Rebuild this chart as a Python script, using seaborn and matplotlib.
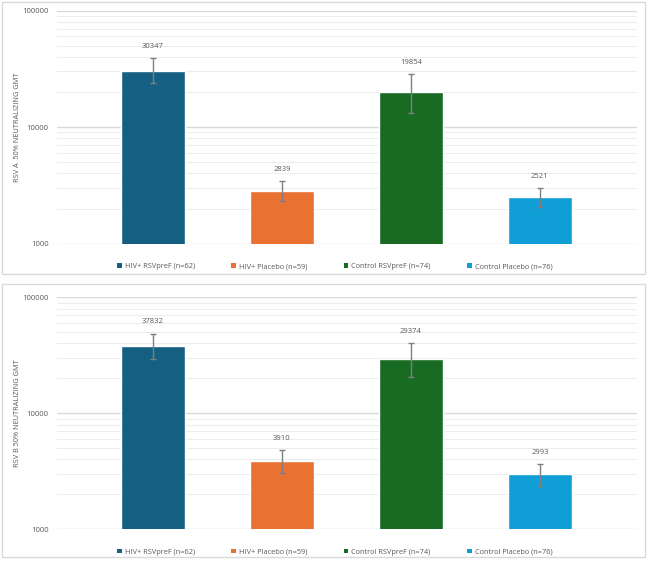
import seaborn as sns
import matplotlib.pyplot as plt
import pandas as pd
from matplotlib.patches import Patch, Rectangle
from matplotlib.ticker import LogLocator, FixedLocator

groups = ["HIV+ RSVpreF (n=62)", "HIV+ Placebo (n=59)", "Control RSVpreF (n=74)", "Control Placebo (n=76)"]
colors = ["#156082", "#E97132", "#196B24", "#0F9ED5"]

gmt_a = [30347, 2839, 19854, 2521]
upper_a = [39100, 3440, 28500, 2995]
lower_a = [23700, 2330, 13100, 2070]

gmt_b = [37832, 3910, 29374, 2993]
upper_b = [48500, 4800, 40100, 3630]
lower_b = [29400, 3075, 20700, 2360]

ylabels = ["RSV A  50% NEUTRALIZING GMT", "RSV B 50% NEUTRALIZING GMT"]

sns.set_theme(style="white")
plt.rcParams["font.family"] = ["Open Sans", "DejaVu Sans"]
txt = "#595959"

fig = plt.figure(figsize=(6.5, 5.63), dpi=100)

# panel frames (pixel coords -> figure fractions)
W, H = 650, 563
for top, bot in [(2, 274), (284, 557)]:
    fig.patches.append(Rectangle((2 / W, 1 - bot / H), 643 / W, (bot - top) / H,
                                 transform=fig.transFigure, fill=False,
                                 edgecolor="#D9D9D9", lw=1))

axes_pos = [[57 / W, 1 - 243.7 / H, 580 / W, 233.2 / H],
            [57 / W, 1 - 529.3 / H, 580 / W, 232.0 / H]]

panels = [(gmt_a, upper_a, lower_a), (gmt_b, upper_b, lower_b)]
pal = dict(zip(groups, colors))

for pos, (gmt, up, lo), ylab in zip(axes_pos, panels, ylabels):
    ax = fig.add_axes(pos)
    df = pd.DataFrame({"group": groups, "gmt": gmt})
    sns.barplot(data=df, x="group", y="gmt", hue="group", palette=pal,
                saturation=1, width=0.5, legend=False, ax=ax, zorder=2)
    ax.set_yscale("log")
    xs = list(range(len(groups)))
    err = [[g - l for g, l in zip(gmt, lo)], [u - g for g, u in zip(gmt, up)]]
    ax.errorbar(xs, gmt, yerr=err, fmt="none", ecolor="#7F7F7F",
                elinewidth=1, capsize=2, capthick=1, zorder=3)
    for x, g, u in zip(xs, gmt, up):
        ax.annotate(str(g), (x, u), xytext=(0, 6), textcoords="offset points",
                    ha="center", va="bottom", fontsize=5.5, color=txt)
    ax.set_ylim(1000, 100000)
    ax.set_xlim(-0.743, 3.753)
    ax.yaxis.set_major_locator(FixedLocator([1000, 10000, 100000]))
    ax.yaxis.set_minor_locator(LogLocator(base=10, subs=range(2, 10)))
    ax.set_yticklabels(["1000", "10000", "100000"])
    ax.yaxis.set_minor_formatter(plt.NullFormatter())
    ax.tick_params(axis="y", which="both", length=0, labelsize=5.5, labelcolor=txt, pad=6)
    ax.set_xticks([])
    ax.set_xlabel("")
    ax.set_ylabel(ylab, fontsize=5.3, color=txt)
    ax.yaxis.set_label_coords(-0.062, 0.5)
    ax.grid(True, axis="y", which="major", color="#D9D9D9", lw=1, zorder=0)
    ax.grid(True, axis="y", which="minor", color="#EDEDED", lw=0.8, zorder=0)
    ax.set_axisbelow(True)
    for s in ax.spines.values():
        s.set_visible(False)
    handles = [Patch(facecolor=c, edgecolor="none") for c in colors]
    ax.legend(handles, groups, loc="center", bbox_to_anchor=(0.479, -0.098), ncol=4,
              frameon=False, fontsize=5.3, labelcolor=txt, handlelength=0.6,
              handleheight=0.6, handletextpad=0.4, columnspacing=5.0)

fig.savefig("out.png", dpi=100)
